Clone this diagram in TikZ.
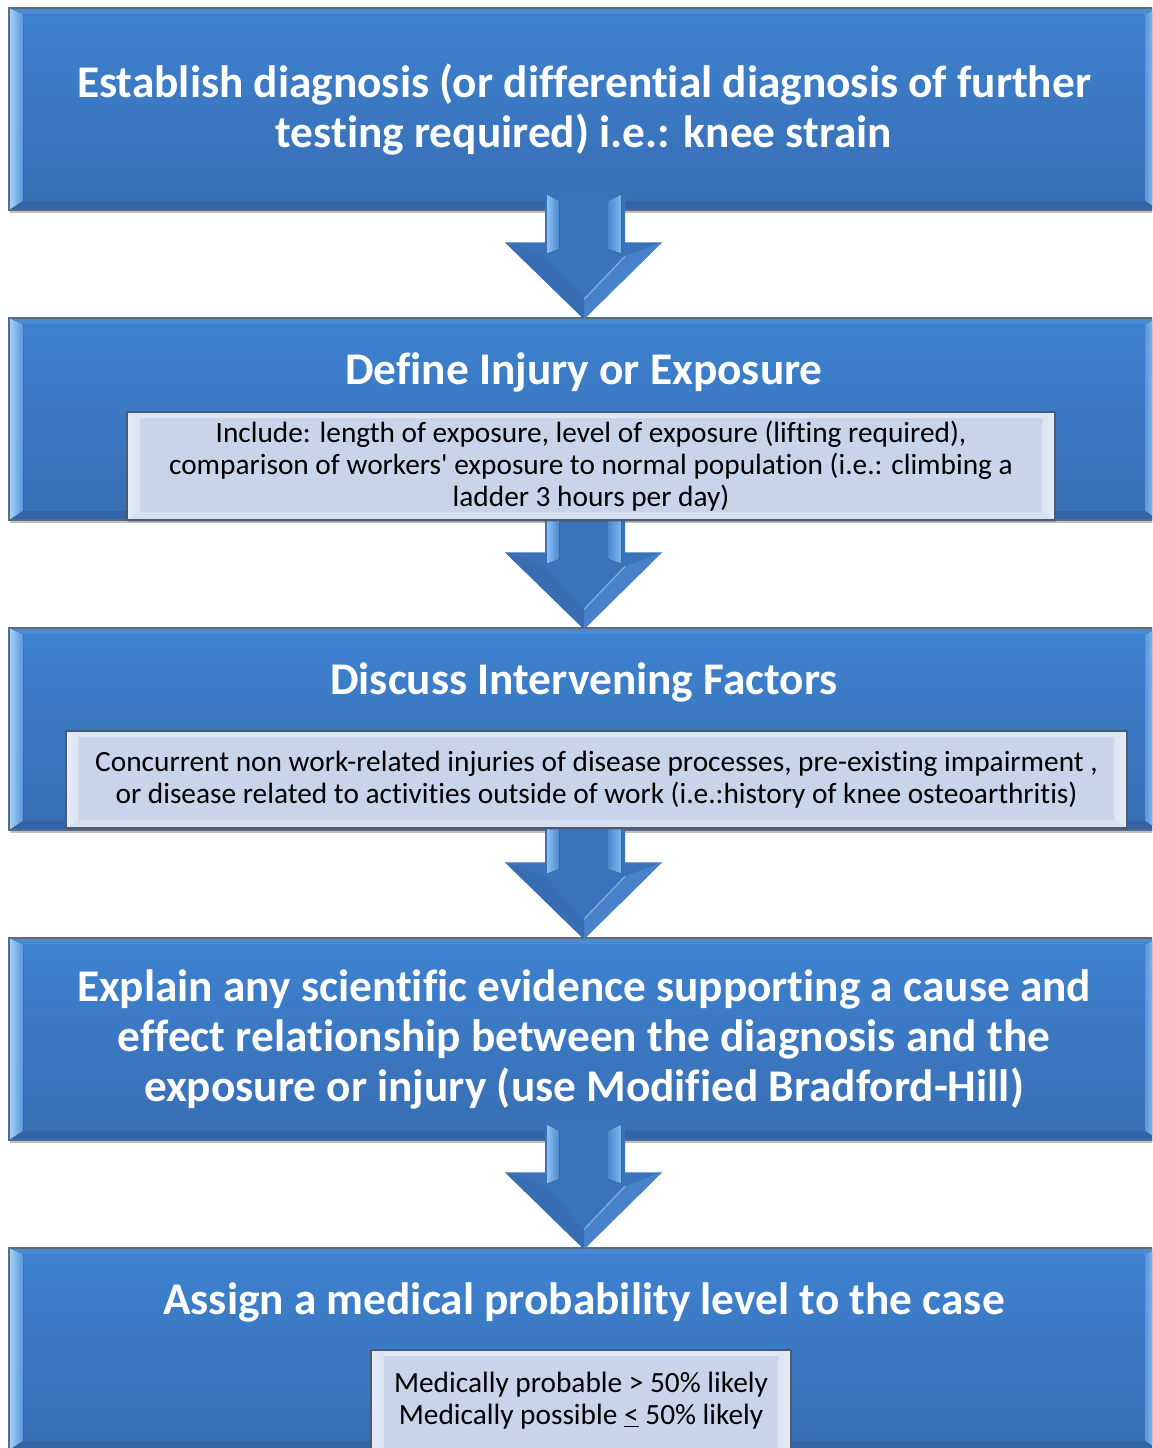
\documentclass[tikz,border=0pt]{standalone}
\usepackage{fontspec}
\newfontfamily\calfont{Carlito}[Ligatures={NoCommon}]
\usetikzlibrary{calc,shadows}
\definecolor{boxtop}{HTML}{3E82D0}
\definecolor{boxbot}{HTML}{386EB3}
\definecolor{boxedge}{HTML}{5A6C82}
\definecolor{bevtop}{HTML}{4A8BD6}
\definecolor{bevlite}{HTML}{A6D3F8}
\definecolor{bevmid}{HTML}{5A97DC}
\definecolor{bevbot}{HTML}{3365A6}
\definecolor{innfill}{HTML}{C8D4EA}
\definecolor{innlite}{HTML}{E6ECF6}
\definecolor{innedge}{HTML}{4C5B70}
\definecolor{arrfill}{HTML}{3B73BB}
\definecolor{arrlite}{HTML}{8CC0F2}
\definecolor{arrmid}{HTML}{4C88D0}
\newcommand\blockarrow[2]{%
  \coordinate (at) at ($(#1.south)+(0,-22)$);
  \coordinate (ab) at ($(#2.north)+(0,2)$);
  \fill[arrfill] ($(at)+(-39,0)$) -- ($(at)+(41,0)$) --
    ($(ab)+(41,-77)$) -- ($(ab)+(78,-77)$) -- (ab) -- ($(ab)+(-79,-77)$) -- ($(ab)+(-39,-77)$) -- cycle;
  \fill[arrmid!70!arrfill] ($(ab)+(41,-63)$) -- ($(ab)+(78,-77)$) -- (ab) -- ($(ab)+(0,-20)$) -- cycle;
  \fill[arrfill!95!black] ($(ab)+(-39,-63)$) -- ($(ab)+(-79,-77)$) -- (ab) -- ($(ab)+(0,-20)$) -- cycle;
  \fill[left color=arrlite, right color=arrmid] ($(at)+(-37,6)$) -- ($(at)+(-25,12)$) -- ($(ab)+(-25,-70)$) -- ($(ab)+(-37,-66)$) -- cycle;
  \fill[left color=arrmid, right color=arrlite!80!arrmid] ($(at)+(24,12)$) -- ($(at)+(37,6)$) -- ($(ab)+(37,-66)$) -- ($(ab)+(24,-70)$) -- cycle;
  \draw[white, opacity=.35, line width=1pt] ($(ab)+(41,-63)$) -- ($(ab)+(0,-20)$);
}
\begin{document}
\begin{tikzpicture}[x=0.75pt,y=-0.75pt,
  mainbox/.style={draw=boxedge, line width=1.1pt, top color=boxtop, bottom color=boxbot,
    minimum width=1150*0.75pt, minimum height=202*0.75pt, inner sep=0pt,
    drop shadow={shadow xshift=0.8pt, shadow yshift=-2.2pt, opacity=.35, fill=black!70},
    path picture={
      \coordinate (pnw) at (path picture bounding box.north west);
      \coordinate (pse) at (path picture bounding box.south east);
      \coordinate (pne) at (pnw -| pse);
      \coordinate (psw) at (pnw |- pse);
      \fill[bevtop] (pnw) -- (pne) -- ($(pne)+(-14,6)$) -- ($(pnw)+(14,6)$) -- cycle;
      \fill[bevbot] (psw) -- (pse) -- ($(pse)+(-14,-9)$) -- ($(psw)+(14,-9)$) -- cycle;
      \fill[left color=bevlite, right color=bevmid] (pnw) -- ($(pnw)+(14,6)$) -- ($(psw)+(14,-9)$) -- (psw) -- cycle;
      \fill[left color=bevmid, right color=bevlite] (pne) -- ($(pne)+(-14,6)$) -- ($(pse)+(-14,-9)$) -- (pse) -- cycle;
    }},
  innbox/.style={draw=innedge, line width=1.1pt, fill=innfill, inner sep=0pt,
    drop shadow={shadow xshift=0.6pt, shadow yshift=-1.5pt, opacity=.3, fill=black!70},
    path picture={
      \coordinate (pnw) at (path picture bounding box.north west);
      \coordinate (pse) at (path picture bounding box.south east);
      \coordinate (pne) at (pnw -| pse);
      \coordinate (psw) at (pnw |- pse);
      \fill[innlite!80!innfill] (pnw) -- (pne) -- ($(pne)+(-13,6)$) -- ($(pnw)+(13,6)$) -- cycle;
      \fill[innlite!50!innfill] (psw) -- (pse) -- ($(pse)+(-13,-8)$) -- ($(psw)+(13,-8)$) -- cycle;
      \fill[left color=innlite, right color=innlite!60!innfill] (pnw) -- ($(pnw)+(13,6)$) -- ($(psw)+(13,-8)$) -- (psw) -- cycle;
      \fill[left color=innlite!60!innfill, right color=innlite] (pne) -- ($(pne)+(-13,6)$) -- ($(pse)+(-13,-8)$) -- (pse) -- cycle;
    }},
  headtxt/.style={text=white, align=center, font=\calfont\bfseries\fontsize{34}{37.5}\selectfont},
  bodytxt/.style={text=black, align=center, font=\calfont\fontsize{22}{24}\selectfont},
]
\useasboundingbox (0,0) rectangle (1152,1448);
\clip (0,0) rectangle (1152,1448);
\fill[white] (0,0) rectangle (1152,1448);

% main boxes
\node[mainbox] (b1) at (584,109) {};
\node[mainbox] (b2) at (584,419) {};
\node[mainbox] (b3) at (584,729) {};
\node[mainbox] (b4) at (584,1039) {};
\node[mainbox] (b5) at (584,1349) {};

% block arrows
\blockarrow{b1}{b2}
\blockarrow{b2}{b3}
\blockarrow{b3}{b4}
\blockarrow{b4}{b5}

% inner boxes
\node[innbox, minimum width=928*0.75pt, minimum height=108*0.75pt] (i2) at (591,466) {};
\node[innbox, minimum width=1061*0.75pt, minimum height=97*0.75pt] (i3) at (596.5,779.5) {};
\node[innbox, minimum width=420*0.75pt, minimum height=120*0.75pt] (i5) at (581,1410) {};

% texts
\node[headtxt] (t1) at (584,110) {Establish diagnosis (or differential diagnosis of further\\testing required) i.e.: knee strain};
\node[headtxt] (t2) at (584,372) {Define Injury or Exposure};
\node[bodytxt] (u2) at (591,466) {Include: length of exposure, level of exposure (lifting required),\\comparison of workers' exposure to normal population (i.e.: climbing a\\ladder 3 hours per day)};
\node[headtxt] (t3) at (584,682) {Discuss Intervening Factors};
\node[bodytxt] (u3) at (596.5,780) {Concurrent non work-related injuries of disease processes, pre-existing impairment ,\\or disease related to activities outside of work (i.e.:history of knee osteoarthritis)};
\node[headtxt] (t4) at (584,1039) {Explain any scientific evidence supporting a cause and\\effect relationship between the diagnosis and the\\exposure or injury (use Modified Bradford-Hill)};
\node[headtxt] (t5) at (584,1302) {Assign a medical probability level to the case};
\node[bodytxt] (u5) at (581,1401) {Medically probable > 50\% likely\\Medically possible \underline{<} 50\% likely};
\end{tikzpicture}
\end{document}
